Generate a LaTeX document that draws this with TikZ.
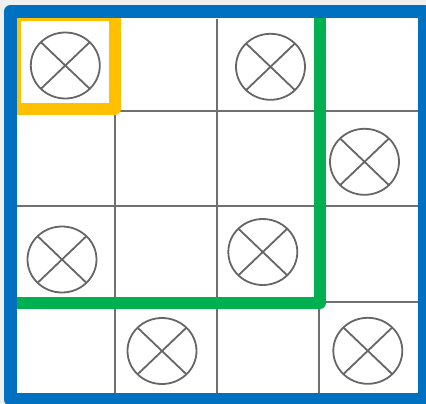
\documentclass[tikz,border=0pt]{standalone}
\definecolor{bgc}{RGB}{240,240,240}
\definecolor{frameblue}{RGB}{0,112,192}
\definecolor{markyellow}{RGB}{255,192,0}
\definecolor{markgreen}{RGB}{0,176,80}
\definecolor{gridgray}{RGB}{112,112,112}
\definecolor{symgray}{RGB}{102,102,102}
\tikzset{
  gridline/.style={draw=gridgray, line width=2pt},
  thickmark/.style={line width=12pt, line join=round},
  xcirc/.pic={
    \draw[symgray, line width=1.8pt] (0,0) ellipse [x radius=34.5, y radius=33];
    \draw[symgray, line width=1.8pt] (-24.4,-23.3) -- (24.4,23.3);
    \draw[symgray, line width=1.8pt] (-24.4,23.3) -- (24.4,-23.3);
  }
}
\begin{document}
\begin{tikzpicture}[x=1pt,y=-1pt]
\useasboundingbox (0,0) rectangle (426,404);
\fill[bgc] (0,0) rectangle (426,404);
\fill[white] (10,12) rectangle (424,399);
% grid
\draw[gridline] (114.5,109) -- (114.5,394);
\draw[gridline] (216.5,19) -- (216.5,394);
\draw[gridline] (318.5,303) -- (318.5,394);
\draw[gridline] (114.5,111) -- (418,111);
\draw[gridline] (17,206) -- (418,206);
\draw[gridline] (320,302) -- (418,302);
% symbols
\pic at (65.3,65.5) {xcirc};
\pic at (270.5,66.8) {xcirc};
\pic at (364.5,161.8) {xcirc};
\pic at (62,259.5) {xcirc};
\pic at (262.8,252) {xcirc};
\pic at (162,351) {xcirc};
\pic at (367.8,350.8) {xcirc};
% yellow and green marks
\draw[markyellow, thickmark] (14.5,15.5) rectangle (115,109);
\draw[markgreen, thickmark] (320,10) -- (320,303) -- (10,303);
% blue frame
\draw[frameblue, line width=13pt, line join=round] (10.5,11.5) rectangle (424.2,399.2);
\end{tikzpicture}
\end{document}
